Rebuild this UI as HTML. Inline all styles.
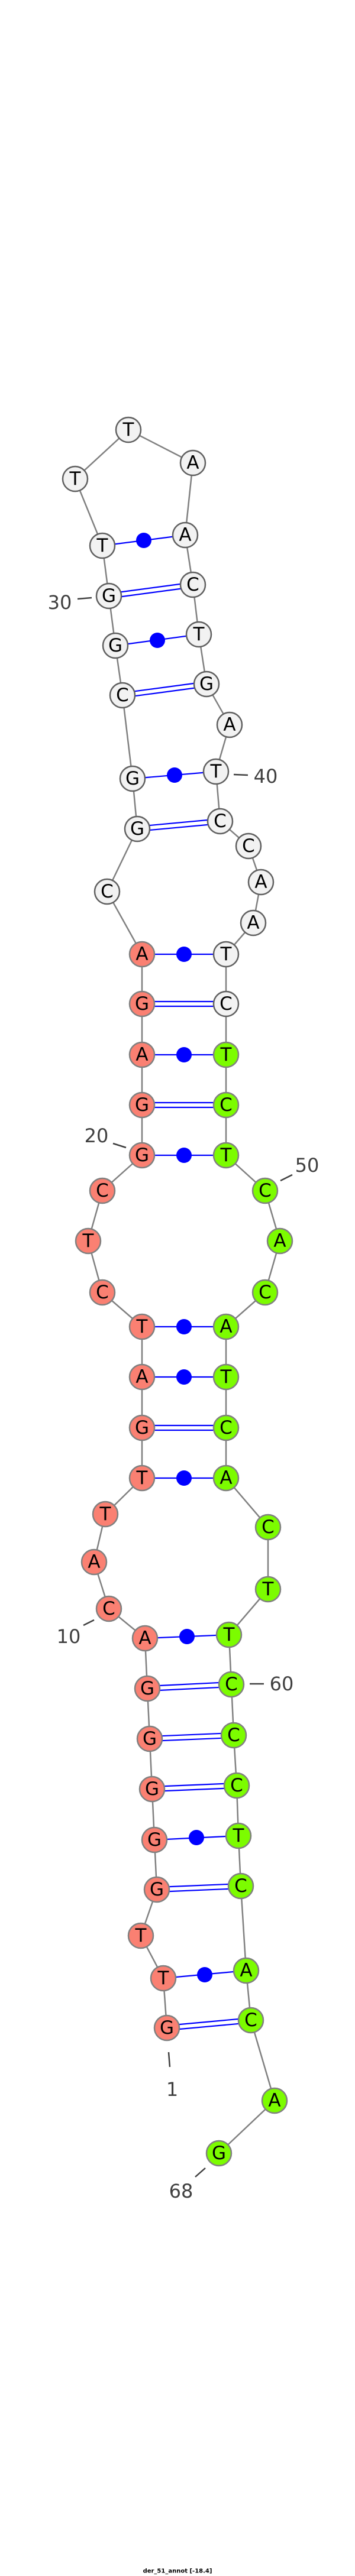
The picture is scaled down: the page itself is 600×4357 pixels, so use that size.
<!DOCTYPE html>
<html><head><meta charset="utf-8"><style>
html,body{margin:0;padding:0;background:#fff;}
svg{display:block;}
.n text{font-family:"DejaVu Sans","Liberation Sans",sans-serif;font-size:31px;text-anchor:middle;dominant-baseline:central;fill:#000;}
.lb{font-family:"DejaVu Sans","Liberation Sans",sans-serif;font-size:32px;text-anchor:middle;dominant-baseline:central;fill:#404040;}
.s circle{fill:#fa8072;stroke:#808080;stroke-width:2.5;}
.g circle{fill:#7cfc00;stroke:#808080;stroke-width:2.5;}
.w circle{fill:#f2f2f2;stroke:#606060;stroke-width:2.5;}
</style></head><body>
<svg width="600" height="4357" viewBox="0 0 600 4357" xmlns="http://www.w3.org/2000/svg">
<polyline fill="none" stroke="#808080" stroke-width="2.5" points="282,3430 276,3346 238,3274 265,3196 261,3112 257,3026 253,2941 249,2856 245,2771 184,2721 159,2642 178,2561 240,2500 240,2415 240,2329 240,2244 173,2186 149,2099 173,2014 240,1954 240,1869 240,1784 240,1698 240,1614 181,1508 232,1402 224,1317 207,1176 195,1092 184,1008 173,923 127,810 217,727 326,783 313,905 326,989 336,1073 349,1157 388,1226 365,1305 372,1389 420,1431 441,1492 428,1561 382,1614 382,1698 382,1784 382,1869 382,1954 448,2014 473,2099 448,2186 382,2244 382,2329 382,2415 382,2500 453,2583 453,2688 387,2765 391,2849 395,2935 400,3020 403,3105 407,3190 416,3333 424,3417 464,3553 370,3642"/>
<g stroke="#0000ff" stroke-width="2.2" fill="none">
<line x1="173" y1="923" x2="313" y2="905"/>
<line x1="184" y1="1004" x2="326" y2="985"/><line x1="184" y1="1012" x2="326" y2="993"/>
<line x1="195" y1="1092" x2="336" y2="1073"/>
<line x1="207" y1="1172" x2="349" y2="1153"/><line x1="207" y1="1180" x2="349" y2="1161"/>
<line x1="224" y1="1317" x2="365" y2="1305"/>
<line x1="232" y1="1398" x2="372" y2="1385"/><line x1="232" y1="1406" x2="372" y2="1393"/>
<line x1="240" y1="1614" x2="382" y2="1614"/>
<line x1="240" y1="1694" x2="382" y2="1694"/><line x1="240" y1="1702" x2="382" y2="1702"/>
<line x1="240" y1="1784" x2="382" y2="1784"/>
<line x1="240" y1="1865" x2="382" y2="1865"/><line x1="240" y1="1873" x2="382" y2="1873"/>
<line x1="240" y1="1954" x2="382" y2="1954"/>
<line x1="240" y1="2244" x2="382" y2="2244"/>
<line x1="240" y1="2329" x2="382" y2="2329"/>
<line x1="240" y1="2411" x2="382" y2="2411"/><line x1="240" y1="2419" x2="382" y2="2419"/>
<line x1="240" y1="2500" x2="382" y2="2500"/>
<line x1="245" y1="2771" x2="387" y2="2765"/>
<line x1="249" y1="2852" x2="391" y2="2845"/><line x1="249" y1="2860" x2="391" y2="2853"/>
<line x1="253" y1="2937" x2="395" y2="2931"/><line x1="253" y1="2945" x2="395" y2="2939"/>
<line x1="257" y1="3022" x2="400" y2="3016"/><line x1="257" y1="3030" x2="400" y2="3024"/>
<line x1="261" y1="3112" x2="403" y2="3105"/>
<line x1="265" y1="3192" x2="407" y2="3186"/><line x1="265" y1="3200" x2="407" y2="3194"/>
<line x1="276" y1="3346" x2="416" y2="3333"/>
<line x1="282" y1="3426" x2="424" y2="3413"/><line x1="282" y1="3434" x2="424" y2="3421"/>
</g>
<g fill="#0000ff">
<circle cx="243" cy="914" r="13"/><circle cx="266" cy="1083" r="13"/><circle cx="295" cy="1311" r="13"/>
<circle cx="311" cy="1614" r="13"/><circle cx="311" cy="1784" r="13"/><circle cx="311" cy="1954" r="13"/>
<circle cx="311" cy="2244" r="13"/><circle cx="311" cy="2329" r="13"/><circle cx="311" cy="2500" r="13"/>
<circle cx="316" cy="2768" r="13"/><circle cx="332" cy="3108" r="13"/><circle cx="346" cy="3340" r="13"/>
</g>
<g stroke="#404040" stroke-width="2.5">
<line x1="131" y1="1013" x2="155" y2="1011"/>
<line x1="395" y1="1310" x2="419" y2="1311"/>
<line x1="191" y1="1934" x2="213" y2="1941"/>
<line x1="474" y1="1997" x2="494" y2="1987"/>
<line x1="141" y1="2749" x2="159" y2="2740"/>
<line x1="422" y1="2848" x2="446" y2="2848"/>
<line x1="285" y1="3471" x2="287" y2="3496"/>
<line x1="330" y1="3682" x2="347" y2="3667"/>
</g>
<text class="lb" x="101" y="1019">30</text>
<text class="lb" x="449" y="1313">40</text>
<text class="lb" x="163" y="1921">20</text>
<text class="lb" x="519" y="1971">50</text>
<text class="lb" x="116" y="2768">10</text>
<text class="lb" x="476" y="2848">60</text>
<text class="lb" x="291" y="3534">1</text>
<text class="lb" x="306" y="3706">68</text>
<g class="n s">
<circle cx="282" cy="3430" r="21"/><text x="282" y="3430">G</text>
<circle cx="276" cy="3346" r="21"/><text x="276" y="3346">T</text>
<circle cx="238" cy="3274" r="21"/><text x="238" y="3274">T</text>
<circle cx="265" cy="3196" r="21"/><text x="265" y="3196">G</text>
<circle cx="261" cy="3112" r="21"/><text x="261" y="3112">G</text>
<circle cx="257" cy="3026" r="21"/><text x="257" y="3026">G</text>
<circle cx="253" cy="2941" r="21"/><text x="253" y="2941">G</text>
<circle cx="249" cy="2856" r="21"/><text x="249" y="2856">G</text>
<circle cx="245" cy="2771" r="21"/><text x="245" y="2771">A</text>
<circle cx="184" cy="2721" r="21"/><text x="184" y="2721">C</text>
<circle cx="159" cy="2642" r="21"/><text x="159" y="2642">A</text>
<circle cx="178" cy="2561" r="21"/><text x="178" y="2561">T</text>
<circle cx="240" cy="2500" r="21"/><text x="240" y="2500">T</text>
<circle cx="240" cy="2415" r="21"/><text x="240" y="2415">G</text>
<circle cx="240" cy="2329" r="21"/><text x="240" y="2329">A</text>
<circle cx="240" cy="2244" r="21"/><text x="240" y="2244">T</text>
<circle cx="173" cy="2186" r="21"/><text x="173" y="2186">C</text>
<circle cx="149" cy="2099" r="21"/><text x="149" y="2099">T</text>
<circle cx="173" cy="2014" r="21"/><text x="173" y="2014">C</text>
<circle cx="240" cy="1954" r="21"/><text x="240" y="1954">G</text>
<circle cx="240" cy="1869" r="21"/><text x="240" y="1869">G</text>
<circle cx="240" cy="1784" r="21"/><text x="240" y="1784">A</text>
<circle cx="240" cy="1698" r="21"/><text x="240" y="1698">G</text>
<circle cx="240" cy="1614" r="21"/><text x="240" y="1614">A</text>
</g>
<g class="n w">
<circle cx="181" cy="1508" r="21"/><text x="181" y="1508">C</text>
<circle cx="232" cy="1402" r="21"/><text x="232" y="1402">G</text>
<circle cx="224" cy="1317" r="21"/><text x="224" y="1317">G</text>
<circle cx="207" cy="1176" r="21"/><text x="207" y="1176">C</text>
<circle cx="195" cy="1092" r="21"/><text x="195" y="1092">G</text>
<circle cx="184" cy="1008" r="21"/><text x="184" y="1008">G</text>
<circle cx="173" cy="923" r="21"/><text x="173" y="923">T</text>
<circle cx="127" cy="810" r="21"/><text x="127" y="810">T</text>
<circle cx="217" cy="727" r="21"/><text x="217" y="727">T</text>
<circle cx="326" cy="783" r="21"/><text x="326" y="783">A</text>
<circle cx="313" cy="905" r="21"/><text x="313" y="905">A</text>
<circle cx="326" cy="989" r="21"/><text x="326" y="989">C</text>
<circle cx="336" cy="1073" r="21"/><text x="336" y="1073">T</text>
<circle cx="349" cy="1157" r="21"/><text x="349" y="1157">G</text>
<circle cx="388" cy="1226" r="21"/><text x="388" y="1226">A</text>
<circle cx="365" cy="1305" r="21"/><text x="365" y="1305">T</text>
<circle cx="372" cy="1389" r="21"/><text x="372" y="1389">C</text>
<circle cx="420" cy="1431" r="21"/><text x="420" y="1431">C</text>
<circle cx="441" cy="1492" r="21"/><text x="441" y="1492">A</text>
<circle cx="428" cy="1561" r="21"/><text x="428" y="1561">A</text>
<circle cx="382" cy="1614" r="21"/><text x="382" y="1614">T</text>
<circle cx="382" cy="1698" r="21"/><text x="382" y="1698">C</text>
</g>
<g class="n g">
<circle cx="382" cy="1784" r="21"/><text x="382" y="1784">T</text>
<circle cx="382" cy="1869" r="21"/><text x="382" y="1869">C</text>
<circle cx="382" cy="1954" r="21"/><text x="382" y="1954">T</text>
<circle cx="448" cy="2014" r="21"/><text x="448" y="2014">C</text>
<circle cx="473" cy="2099" r="21"/><text x="473" y="2099">A</text>
<circle cx="448" cy="2186" r="21"/><text x="448" y="2186">C</text>
<circle cx="382" cy="2244" r="21"/><text x="382" y="2244">A</text>
<circle cx="382" cy="2329" r="21"/><text x="382" y="2329">T</text>
<circle cx="382" cy="2415" r="21"/><text x="382" y="2415">C</text>
<circle cx="382" cy="2500" r="21"/><text x="382" y="2500">A</text>
<circle cx="453" cy="2583" r="21"/><text x="453" y="2583">C</text>
<circle cx="453" cy="2688" r="21"/><text x="453" y="2688">T</text>
<circle cx="387" cy="2765" r="21"/><text x="387" y="2765">T</text>
<circle cx="391" cy="2849" r="21"/><text x="391" y="2849">C</text>
<circle cx="395" cy="2935" r="21"/><text x="395" y="2935">C</text>
<circle cx="400" cy="3020" r="21"/><text x="400" y="3020">C</text>
<circle cx="403" cy="3105" r="21"/><text x="403" y="3105">T</text>
<circle cx="407" cy="3190" r="21"/><text x="407" y="3190">C</text>
<circle cx="416" cy="3333" r="21"/><text x="416" y="3333">A</text>
<circle cx="424" cy="3417" r="21"/><text x="424" y="3417">C</text>
<circle cx="464" cy="3553" r="21"/><text x="464" y="3553">A</text>
<circle cx="370" cy="3642" r="21"/><text x="370" y="3642">G</text>
</g>
<text x="300" y="4349" font-family="'DejaVu Sans','Liberation Sans',sans-serif" font-size="10" font-weight="bold" text-anchor="middle" dominant-baseline="central" fill="#000">der_51_annot [-18.4]</text>
</svg>
</body></html>
